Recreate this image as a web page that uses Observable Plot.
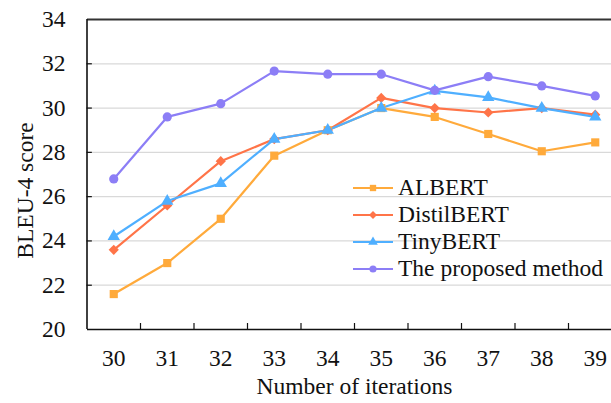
<!DOCTYPE html>
<html><head><meta charset="utf-8">
<script src="https://cdn.jsdelivr.net/npm/d3@7"></script>
<script src="https://cdn.jsdelivr.net/npm/@observablehq/plot@0.6"></script>
<style>
body{margin:0;background:#fff}
#wrap{position:relative;width:611px;height:403px;overflow:hidden}
#wrap svg text{font-family:'Liberation Serif','Times New Roman',serif}
#legend{position:absolute;left:352px;top:174px;font-family:'Liberation Serif','Times New Roman',serif;font-size:23.5px;color:#111}
#legend .item{height:27px;display:flex;align-items:center;white-space:nowrap}
#legend svg{margin-right:4px}
</style>
</head><body><div id="wrap"><div id="legend"></div></div>
<script>
const iterations = [30, 31, 32, 33, 34, 35, 36, 37, 38, 39];
const seriesNames = ["ALBERT", "DistilBERT", "TinyBERT", "The proposed method"];
const albert     = [21.6, 23.0, 25.0, 27.85, 29.0, 30.0, 29.6, 28.83, 28.05, 28.45];
const distilbert = [23.6, 25.6, 27.6, 28.6, 29.0, 30.46, 30.0, 29.8, 30.0, 29.7];
const tinybert   = [24.2, 25.8, 26.6, 28.6, 29.0, 30.0, 30.78, 30.48, 30.0, 29.6];
const proposed   = [26.8, 29.6, 30.2, 31.67, 31.53, 31.53, 30.8, 31.42, 31.0, 30.55];
const yTicks = [20, 22, 24, 26, 28, 30, 32, 34];
const colors = ["#FFAA3B", "#FF7448", "#4FAFFF", "#8C7EF6"];
const symbols = ["square", "diamond2", "triangle", "circle"];

const allValues = [albert, distilbert, tinybert, proposed];
const data = seriesNames.flatMap((name, s) => iterations.map((x, i) => ({x, y: allValues[s][i], name})));
const separators = iterations.slice(0, -1).map(d => d + 0.5);
const font = "Liberation Serif";
const fs = 23.5;

const chart = Plot.plot({
  width: 611, height: 403,
  marginTop: 19, marginBottom: 74, marginLeft: 87, marginRight: 0,
  x: {domain: [29.5, 39.5], range: [86.5, 621.5]},
  y: {domain: [20, 34], range: [329, 19]},
  color: {domain: seriesNames, range: colors},
  symbol: {domain: seriesNames, range: symbols},
  style: {fontFamily: font, fontSize: fs + "px", color: "#111", background: "#fff"},
  marks: [
    Plot.ruleY(yTicks.slice(1, -1), {stroke: "#d9d9d9", strokeWidth: 1.3}),
    Plot.ruleY([yTicks[yTicks.length - 1]], {stroke: "#333", strokeWidth: 2}),
    Plot.ruleY([yTicks[0]], {stroke: "#111", strokeWidth: 1.6}),
    Plot.ruleX([29.5], {stroke: "#111", strokeWidth: 1.6}),
    Plot.ruleX(separators, {y1: 20, y2: 20.27, stroke: "#111", strokeWidth: 1.2}),
    Plot.ruleY(yTicks.slice(1, -1), {x1: 29.5, x2: 29.6, stroke: "#111", strokeWidth: 1.2}),
    Plot.line(data, {x: "x", y: "y", z: "name", stroke: "name", strokeWidth: 2.2}),
    Plot.dot(data, {x: "x", y: "y", fill: "name", symbol: "name", r: 4.6, stroke: null}),
    Plot.axisX(iterations, {tickSize: 0, tickPadding: 20, fontSize: fs, fontFamily: font, label: null}),
    Plot.axisY(yTicks, {tickSize: 0, tickPadding: 22, fontSize: fs, fontFamily: font, label: null}),
    Plot.text(["Number of iterations"], {frameAnchor: "bottom", dx: 5, dy: 57, lineAnchor: "middle", fontSize: fs, fontFamily: font, fill: "#111"}),
    Plot.text(["BLEU-4 score"], {frameAnchor: "left", dx: -62, dy: 16, rotate: -90, lineAnchor: "middle", textAnchor: "middle", fontSize: fs, fontFamily: font, fill: "#111"})
  ]
});
document.getElementById("wrap").prepend(chart);

const legend = document.getElementById("legend");
const shapes = {square: d3.symbolSquare, diamond2: d3.symbolDiamond2, triangle: d3.symbolTriangle, circle: d3.symbolCircle};
seriesNames.forEach((name, i) => {
  const item = document.createElement("div");
  item.className = "item";
  const svg = d3.create("svg").attr("width", 42).attr("height", 20);
  svg.append("line").attr("x1", 1).attr("x2", 41).attr("y1", 10).attr("y2", 10).attr("stroke", colors[i]).attr("stroke-width", 2.2);
  svg.append("path").attr("d", d3.symbol(shapes[symbols[i]], 40)()).attr("transform", "translate(21,10)").attr("fill", colors[i]);
  item.appendChild(svg.node());
  const span = document.createElement("span");
  span.textContent = name;
  item.appendChild(span);
  legend.appendChild(item);
});
</script>
</body></html>
